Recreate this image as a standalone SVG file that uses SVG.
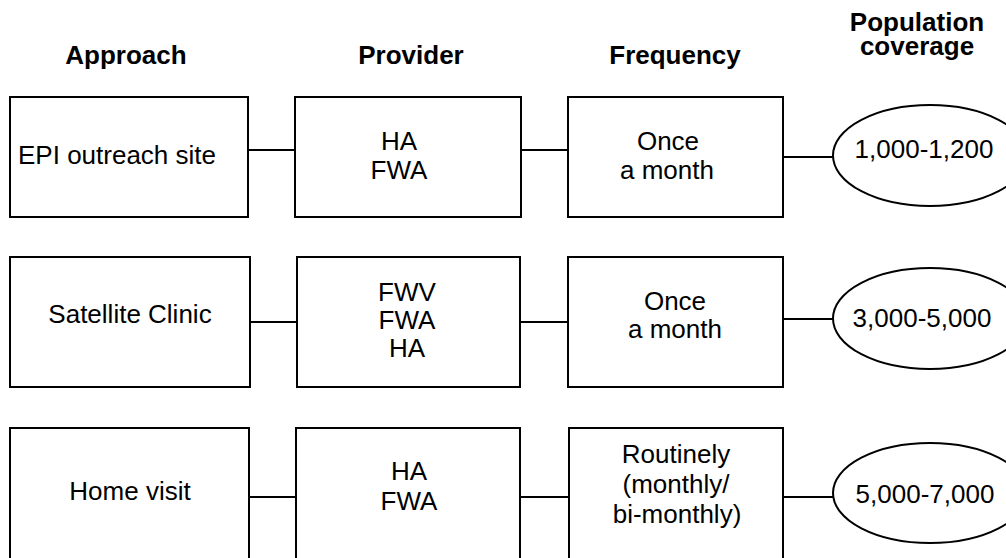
<svg xmlns="http://www.w3.org/2000/svg" width="1006" height="558" viewBox="0 0 1006 558">
<style>
.box{fill:#fff;stroke:#000;stroke-width:2}
.ell{fill:#fff;stroke:#000;stroke-width:2}
.hd{font-family:"Liberation Sans",Arial,sans-serif;font-weight:bold;font-size:26px;fill:#000;text-anchor:middle}
.t{font-family:"Liberation Sans",Arial,sans-serif;font-size:26px;fill:#000;text-anchor:middle}
.conn line{stroke:#000;stroke-width:2}
</style>
<rect width="1006" height="558" fill="#fff"/>
<g id="headers">
<text class="hd" x="126" y="64">Approach</text>
<text class="hd" x="411" y="64">Provider</text>
<text class="hd" x="675" y="64">Frequency</text>
<text class="hd" x="917" y="31">Population</text>
<text class="hd" x="917" y="55">coverage</text>
</g>
<g class="conn" id="connectors">
<line x1="248" y1="150" x2="295" y2="150"/>
<line x1="521" y1="150" x2="568" y2="150"/>
<line x1="783" y1="157" x2="833" y2="157"/>
<line x1="250" y1="322" x2="300" y2="322"/>
<line x1="520" y1="322" x2="568" y2="322"/>
<line x1="783" y1="319" x2="833" y2="319"/>
<line x1="249" y1="497" x2="299" y2="497"/>
<line x1="520" y1="497" x2="569" y2="497"/>
<line x1="783" y1="497" x2="833" y2="497"/>
</g>
<g id="approach-epi"><rect class="box" x="10" y="97" width="238" height="120"/><text class="t" x="18" y="164" style="text-anchor:start">EPI outreach site</text></g>
<g id="provider-1"><rect class="box" x="295" y="97" width="226" height="120"/><text class="t" x="399" y="150">HA</text><text class="t" x="399" y="179">FWA</text></g>
<g id="frequency-1"><rect class="box" x="568" y="97" width="215" height="120"/><text class="t" x="668" y="150">Once</text><text class="t" x="667" y="179">a month</text></g>
<g id="coverage-1"><ellipse class="ell" cx="930" cy="155.5" rx="97" ry="50.5"/><text class="t" x="924" y="158">1,000-1,200</text></g>

<g id="approach-satellite"><rect class="box" x="10" y="257" width="240" height="130"/><text class="t" x="130" y="323">Satellite Clinic</text></g>
<g id="provider-2"><rect class="box" x="297" y="257" width="223" height="130"/><text class="t" x="407" y="301">FWV</text><text class="t" x="407" y="329">FWA</text><text class="t" x="407" y="357">HA</text></g>
<g id="frequency-2"><rect class="box" x="568" y="257" width="215" height="130"/><text class="t" x="675" y="310">Once</text><text class="t" x="675" y="338">a month</text></g>
<g id="coverage-2"><ellipse class="ell" cx="930" cy="318.5" rx="97" ry="50.5"/><text class="t" x="922" y="327">3,000-5,000</text></g>

<g id="approach-home"><rect class="box" x="10" y="428" width="239" height="145"/><text class="t" x="130" y="500">Home visit</text></g>
<g id="provider-3"><rect class="box" x="296" y="428" width="224" height="145"/><text class="t" x="409" y="480">HA</text><text class="t" x="409" y="510">FWA</text></g>
<g id="frequency-3"><rect class="box" x="569" y="428" width="214" height="145"/><text class="t" x="676" y="463">Routinely</text><text class="t" x="676" y="493">(monthly/</text><text class="t" x="677" y="523">bi-monthly)</text></g>
<g id="coverage-3"><ellipse class="ell" cx="930" cy="493" rx="97" ry="50"/><text class="t" x="925" y="503">5,000-7,000</text></g>
</svg>
